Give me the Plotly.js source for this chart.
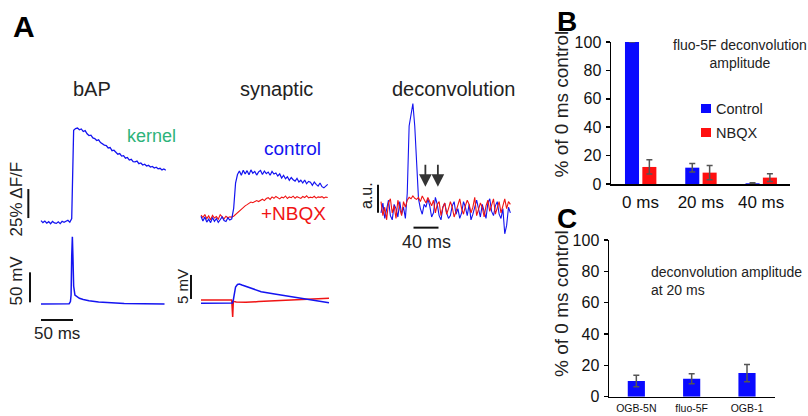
<!DOCTYPE html>
<html>
<head>
<meta charset="utf-8">
<script src="https://cdn.plot.ly/plotly-3.0.1.min.js"></script>
<style>html,body{margin:0;padding:0;background:#fff;}#plot{width:808px;height:416px;}</style>
</head>
<body>
<div id="plot"></div>
<script>
// ---------------- DATA ----------------
// Panel A, bAP: fluorescence (% dF/F), sampled every 3 ms from 0 ms
const bapF = [1.2, -0.5, 0.8, -1.0, 0.3, -1.5, 0.5, -0.8, -1.2, 0.2, -1.4, 0.6, -0.3, 1.0, 1.5, -0.2,
  3, 79,
  80.5, 81, 79.5, 80.2, 78, 78.8, 76, 74.5, 74.8, 72.5,
  71.9, 70.2, 70.8, 68.5, 67.1, 66.3, 65.9, 63.8, 64.2, 61.5,
  61.9, 59.8, 58.5, 59.0, 56.8, 57.2, 55.0, 55.6, 53.4, 54.0,
  52.1, 51.8, 52.5, 50.3, 50.9, 49.1, 49.8, 48.2, 48.9, 47.4,
  47.9, 46.5, 47.2, 45.8, 46.3, 44.9, 45.7, 44.6];
// bAP voltage (mV)
const bapVt = [0, 44, 46, 47, 48, 49, 50, 51, 53, 56, 60, 66, 75, 90, 110, 130, 160, 193];
const bapVmv = [-70, -69.5, -66, -55, 10, 42, 5, -40, -55, -58, -60.5, -62.5, -64.5, -66.5, -68, -69, -69.7, -70];

// Panel A, synaptic: fluorescence (% dF/F), every 3 ms
const synFctl = [1.5, -2.5, 0.8, -3.5, -1.0, -4.0, 0.5, -2.8, -0.5, -3.8, -1.5, 1.0, -2.2, -3.0, 0.2, -1.8, -0.8,
  8, 30, 37.5,
  40.5, 36.8, 41.2, 38.0, 40.8, 37.2, 41.5, 38.6, 40.2, 37.0, 39.8, 41.0, 37.5, 40.5, 38.2, 39.6, 36.8, 40.1, 37.9, 38.8,
  36.2, 38.0, 34.5, 36.8, 33.8, 35.5, 32.5, 34.9, 33.0, 31.8, 34.2, 31.0, 32.6, 30.2, 32.8, 29.5, 31.5, 30.8, 28.2, 31.0,
  29.0, 27.5, 30.2, 27.0, 26.0, 27.8, 29.0];
const synFnbqx = [2.5, 0.5, 3.0, -0.5, 1.8, -1.5, 2.2, 0.0, 1.2, -1.0, 2.8, 0.5, -0.8, 1.5, 0.2, 1.0, 0.8,
  1.5, 3.0, 5.0, 6.5, 7.5, 9.0, 10.5, 11.5, 13.0, 13.8,
  13.2, 14.5, 15.0, 14.2, 15.6, 16.2, 15.0, 16.8, 17.5, 16.0,
  18.2, 17.0, 18.6, 17.2, 16.5, 18.0, 17.4, 19.0, 16.8, 18.2,
  17.5, 18.8, 17.0, 18.4, 17.8, 16.9, 18.5, 17.6, 19.2, 17.3,
  18.0, 17.5, 18.7, 17.1, 18.2, 17.8, 18.4, 17.2, 18.0, 17.6];
// synaptic voltage (mV, relative)
const synVtCtl = [0, 30, 49, 50.5, 52, 54, 57, 60, 64, 70, 79, 94, 115, 141, 167, 180, 200];
const synVctl = [0, -0.04, 0.06, 0.69, 2.35, 3.4, 3.92, 4.02, 3.81, 3.5, 3.13, 2.42, 1.94, 1.38, 0.83, 0.58, 0.13];
const synVtNbqx = [0, 20, 48, 49.5, 50.5, 55, 70, 90, 120, 150, 180, 200];
const synVnbqx = [0.69, 0.7, 0.69, -2.85, 0.4, 0.25, 0.2, 0.35, 0.55, 0.75, 0.92, 1.04];

// Panel A, deconvolution (a.u.), every 3 ms
const decCtl = [-0.1, 0.25, -0.3, 0.1, 0.35, -0.2, -0.35, 0.2, 0.05, -0.25, 0.3, -0.15, 0.1, -0.3,
  0.6, 3.0, 3.45, 3.8, 3.0, 1.5, 0.4, 0.05,
  -0.15, 0.2, 0.1, 0.4, 0.15, -0.25, -0.1, 0.45, 0.2, -0.2,
  -0.35, 0.1, 0.25, -0.1, -0.3, -0.2, 0.15, 0.3, -0.15, 0.05,
  -0.3, -0.1, 0.3, 0.1, -0.2, 0.2, -0.35, -0.15, 0.1, 0.35,
  0.05, -0.25, 0.2, -0.1, -0.3, 0.25, 0.4, -0.05, -0.2, 0.15,
  0.3, -0.15, -0.3, 0.05, -0.85, -0.55, 0.1, -0.1];
const decNbqx = [0.3, -0.2, 0.1, -0.35, 0.25, 0.4, -0.1, 0.15, -0.3, 0.35, 0.05, -0.2, 0.3, 0.1,
  0.35, 0.45, 0.4, 0.5, 0.42, 0.38, 0.45, 0.3, 0.5, 0.35, 0.25, 0.45, 0.3,
  0.15, 0.35, -0.1, 0.2, 0.3, -0.2, 0.1, 0.25, -0.15, 0.05,
  0.3, 0.1, -0.25, -0.05, 0.2, 0.4, 0.05, -0.15, 0.15, 0.35,
  0.2, -0.1, 0.1, 0.45, -0.2, 0.0, 0.25, 0.1, -0.25, 0.15,
  0.35, -0.05, 0.2, 0.4, -0.15, 0.05, 0.3, -0.1, 0.15, 0.4,
  0.05, 0.3, 0.2];
const arrowTimes = [71, 91];

// Panel B
const bCats = ['0 ms', '20 ms', '40 ms'];
const bControl = [100, 11.5, 0.5];
const bControlErr = [0, 3, 0.3];
const bNbqx = [12, 8, 4.5];
const bNbqxErr = [5, 5, 2.7];

// Panel C
const cCats = ['OGB-5N', 'fluo-5F', 'OGB-1'];
const cVals = [10, 11.5, 15.1];
const cErr = [3.7, 3.2, 5.5];

// ---------------- LAYOUT HELPERS ----------------
const W = 808, H = 416;
const FONT = 'Liberation Sans, Arial, Helvetica, sans-serif';
const BLUE = '#1414f0', RED = '#f01414';
function xd(a, b) { return [a / W, b / W]; }
function yd(top, bot) { return [1 - bot / H, 1 - top / H]; }
function txt(text, px, py, size, extra) {
  return Object.assign({
    text: text, xref: 'paper', yref: 'paper', x: px / W, y: 1 - py / H,
    xanchor: 'center', yanchor: 'middle', showarrow: false,
    font: { family: FONT, size: size, color: '#222' }
  }, extra || {});
}
function hidden(domain, range, anchor) {
  return { domain: domain, range: range, anchor: anchor, visible: false, fixedrange: true };
}
function vbar(xr, yr, x, y0, y1) {
  return { type: 'line', xref: xr, yref: yr, x0: x, x1: x, y0: y0, y1: y1, line: { color: '#111', width: 2 } };
}
function hbar(xr, yr, x0, x1, y) {
  return { type: 'line', xref: xr, yref: yr, x0: x0, x1: x1, y0: y, y1: y, line: { color: '#111', width: 2 } };
}

const line = (w, c) => ({ color: c, width: w });

const traces = [
  // Panel B bars
  { type: 'bar', x: bCats, y: bControl, xaxis: 'x', yaxis: 'y', width: 0.233, offset: -0.258,
    marker: { color: '#0a0aff' },
    error_y: { type: 'data', array: bControlErr, visible: true, color: '#555', thickness: 1.5, width: 3 },
    showlegend: false, hoverinfo: 'skip' },
  { type: 'bar', x: bCats, y: bNbqx, xaxis: 'x', yaxis: 'y', width: 0.233, offset: 0.03,
    marker: { color: '#ff1010' },
    error_y: { type: 'data', array: bNbqxErr, visible: true, color: '#555', thickness: 1.5, width: 3 },
    showlegend: false, hoverinfo: 'skip' },
  // Panel C bars
  { type: 'bar', x: cCats, y: cVals, xaxis: 'x2', yaxis: 'y2', width: 0.31,
    marker: { color: '#0a0aff' },
    error_y: { type: 'data', array: cErr, visible: true, color: '#555', thickness: 1.5, width: 3 },
    showlegend: false, hoverinfo: 'skip' },
  // bAP
  { type: 'scatter', mode: 'lines', y: bapF, x0: 0, dx: 3, xaxis: 'x3', yaxis: 'y3', line: line(1.3, BLUE), showlegend: false },
  { type: 'scatter', mode: 'lines', x: bapVt, y: bapVmv, xaxis: 'x4', yaxis: 'y4', line: line(1.5, BLUE), showlegend: false },
  // synaptic
  { type: 'scatter', mode: 'lines', y: synFnbqx, x0: 0, dx: 3, xaxis: 'x5', yaxis: 'y5', line: line(1.1, RED), showlegend: false },
  { type: 'scatter', mode: 'lines', y: synFctl, x0: 0, dx: 3, xaxis: 'x5', yaxis: 'y5', line: line(1.2, BLUE), showlegend: false },
  { type: 'scatter', mode: 'lines', x: synVtNbqx, y: synVnbqx, xaxis: 'x6', yaxis: 'y6', line: line(1.5, RED), showlegend: false },
  { type: 'scatter', mode: 'lines', x: synVtCtl, y: synVctl, xaxis: 'x6', yaxis: 'y6', line: line(1.5, BLUE), showlegend: false },
  // deconvolution
  { type: 'scatter', mode: 'lines', y: decCtl, x0: 0, dx: 3, xaxis: 'x7', yaxis: 'y7', line: line(1.1, BLUE), showlegend: false },
  { type: 'scatter', mode: 'lines', y: decNbqx, x0: 0, dx: 3, xaxis: 'x7', yaxis: 'y7', line: line(1.1, RED), showlegend: false }
];

const axisCommon = {
  showgrid: false, zeroline: false, showline: true, linecolor: '#000', linewidth: 1.5,
  fixedrange: true, tickfont: { family: FONT, size: 17, color: '#111' }
};
const yTickFont = { family: FONT, size: 16, color: '#111' };

const layout = {
  width: W, height: H, margin: { l: 0, r: 0, t: 0, b: 0 },
  paper_bgcolor: '#fff', plot_bgcolor: 'rgba(0,0,0,0)',
  showlegend: false, barmode: 'overlay',
  xaxis: Object.assign({}, axisCommon, { domain: xd(611, 790), range: [-0.49, 2.48], type: 'category',
    categoryorder: 'array', categoryarray: bCats, anchor: 'y', ticks: '', ticklabelstandoff: 2 }),
  yaxis: Object.assign({}, axisCommon, { domain: yd(42, 184), range: [0, 100], anchor: 'x',
    ticks: 'outside', ticklen: 4, tickwidth: 1.5, tickcolor: '#000', tickvals: [0, 20, 40, 60, 80, 100],
    tickfont: yTickFont, ticklabelstandoff: 1 }),
  xaxis2: Object.assign({}, axisCommon, { domain: xd(609, 775), range: [-0.494, 2.506], type: 'category',
    categoryorder: 'array', categoryarray: cCats, anchor: 'y2', ticks: '',
    tickfont: { family: FONT, size: 10.5, color: '#111' }, ticklabelstandoff: 1 }),
  yaxis2: Object.assign({}, axisCommon, { domain: yd(240, 396.7), range: [0, 100], anchor: 'x2',
    ticks: 'outside', ticklen: 4, tickwidth: 1.5, tickcolor: '#000', tickvals: [0, 20, 40, 60, 80, 100],
    tickfont: yTickFont, ticklabelstandoff: 1 }),
  xaxis3: hidden(xd(20, 170), [-32.81, 201.56], 'y3'),
  yaxis3: hidden(yd(110, 232), [-8.62, 96.55], 'x3'),
  xaxis4: hidden(xd(20, 170), [-32.81, 201.56], 'y4'),
  yaxis4: hidden(yd(228, 326), [-106.67, 56.67], 'x4'),
  xaxis5: hidden(xd(185, 340), [-25, 217.19], 'y5'),
  yaxis5: hidden(yd(135, 232), [-12.07, 71.55], 'x5'),
  xaxis6: hidden(xd(185, 340), [-25, 217.19], 'y6'),
  yaxis6: hidden(yd(262, 325), [-4.52, 8.6], 'x6'),
  xaxis7: hidden(xd(370, 520), [-17.6, 222.4], 'y7'),
  yaxis7: hidden(yd(95, 240), [-1.071, 4.107], 'x7'),
  shapes: [
    vbar('x3', 'y3', -19.8, 3.4, 28.4),      // 25% dF/F
    vbar('x4', 'y4', -17.2, -67.2, -17.2),   // 50 mV
    hbar('x4', 'y4', 0, 50, -96.7),          // 50 ms
    vbar('x6', 'y6', -15.6, 0.9, 5.9),       // 5 mV
    vbar('x7', 'y7', -4.8, -0.1, 0.9),       // a.u.
    hbar('x7', 'y7', 52, 92, -0.63),         // 40 ms
    // legend swatches panel B
    { type: 'rect', xref: 'paper', yref: 'paper', x0: 701 / W, x1: 711 / W, y0: 1 - 113 / H, y1: 1 - 104 / H, fillcolor: '#0a0aff', line: { width: 0 } },
    { type: 'rect', xref: 'paper', yref: 'paper', x0: 701 / W, x1: 711 / W, y0: 1 - 137 / H, y1: 1 - 128 / H, fillcolor: '#ff1010', line: { width: 0 } }
  ],
  annotations: [
    txt('<b>A</b>', 24, 26, 30, { font: { family: FONT, size: 30, color: '#000' } }),
    txt('<b>B</b>', 567, 21, 28, { font: { family: FONT, size: 28, color: '#000' } }),
    txt('<b>C</b>', 567, 218, 28, { font: { family: FONT, size: 28, color: '#000' } }),
    txt('bAP', 92, 89, 20),
    txt('synaptic', 276, 89, 20),
    txt('deconvolution', 453, 89, 20),
    txt('kernel', 151, 136, 18, { font: { family: FONT, size: 18, color: '#2db37a' } }),
    txt('control', 292, 149, 19, { font: { family: FONT, size: 19, color: BLUE } }),
    txt('+NBQX', 293, 214, 19, { font: { family: FONT, size: 19, color: RED } }),
    txt('25% ΔF/F', 15.5, 199, 17, { textangle: -90 }),
    txt('50 mV', 15.5, 281, 17, { textangle: -90 }),
    txt('5 mV', 182, 287, 15, { textangle: -90 }),
    txt('50 ms', 57, 333, 17),
    txt('a.u.', 366, 196, 16, { textangle: -90 }),
    txt('40 ms', 426, 242, 18),
    txt('% of 0 ms control', 561, 104.5, 19, { textangle: -90 }),
    txt('% of 0 ms control', 561, 304, 19, { textangle: -90 }),
    txt('fluo-5F deconvolution<br>amplitude', 740, 54, 14),
    txt('Control', 713.5, 108.5, 14.5, { xanchor: 'left' }),
    txt('NBQX', 713.5, 132.5, 14.5, { xanchor: 'left' }),
    txt('deconvolution amplitude<br>at 20 ms', 649, 280.5, 14, { xanchor: 'left', align: 'left' }),
    // arrows in deconvolution panel
    { xref: 'x7', yref: 'y7', axref: 'x7', ayref: 'y7', x: arrowTimes[0], y: 0.83, ax: arrowTimes[0], ay: 1.67,
      showarrow: true, arrowhead: 2, arrowsize: 1.4, arrowwidth: 1.8, arrowcolor: '#333', text: '' },
    { xref: 'x7', yref: 'y7', axref: 'x7', ayref: 'y7', x: arrowTimes[1], y: 0.83, ax: arrowTimes[1], ay: 1.67,
      showarrow: true, arrowhead: 2, arrowsize: 1.4, arrowwidth: 1.8, arrowcolor: '#333', text: '' }
  ]
};

Plotly.newPlot('plot', traces, layout, { staticPlot: true, displayModeBar: false });
</script>
</body>
</html>
